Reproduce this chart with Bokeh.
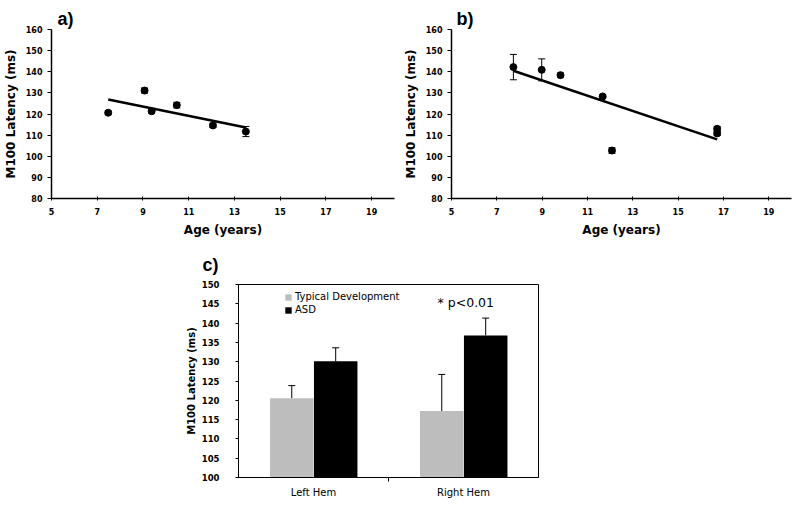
import numpy as np
from bokeh.plotting import figure
from bokeh.models import (ColumnDataSource, Whisker, TeeHead, Label, Legend, LegendItem,
                          FixedTicker, Range1d, Title)
from bokeh.layouts import column, row
from bokeh.embed import file_html
from bokeh.resources import INLINE

# ---------------- data ----------------
# panel a (typical development): age, M100 latency, error
age_a = [7.48, 9.07, 9.38, 10.48, 12.06, 13.5]
lat_a = [120.6, 131.1, 121.3, 124.2, 114.6, 111.7]
err_a = [0.8, 1.2, 0.9, 1.3, 1.0, 2.4]

# panel b (ASD)
age_b = [7.73, 8.98, 9.81, 11.67, 12.08, 16.72, 16.72]
lat_b = [142.2, 140.9, 138.4, 128.3, 102.7, 113.0, 110.8]
err_b = [6.0, 5.2, 1.0, 0.8, 1.3, 1.0, 1.0]

age_ticks = [5, 7, 9, 11, 13, 15, 17, 19]
lat_ticks_ab = [80, 90, 100, 110, 120, 130, 140, 150, 160]

# panel c (bars)
hemispheres = ["Left Hem", "Right Hem"]
td_means = [120.5, 117.2]
td_err = [3.3, 9.5]
asd_means = [130.1, 136.8]
asd_err = [3.5, 4.5]
series_names = ["Typical Development", "ASD"]
lat_ticks_c = [100, 105, 110, 115, 120, 125, 130, 135, 140, 145, 150]

FONT = "DejaVu Sans"


def scatter_panel(age, lat, err, letter, width, border_left, border_right, offset):
    p = figure(width=width, height=240, x_range=Range1d(5, 20), y_range=Range1d(80, 160),
               output_backend="svg", toolbar_location=None,
               min_border_left=border_left, min_border_right=border_right,
               min_border_top=29, min_border_bottom=42)
    p.outline_line_color = None
    p.grid.visible = False
    p.background_fill_color = "white"
    p.border_fill_color = "white"

    p.title = Title(text=letter, align="left", offset=offset, standoff=2,
                    text_font="Liberation Sans", text_font_size="18px",
                    text_font_style="bold", text_color="black")

    age = np.array(age, dtype=float)
    lat = np.array(lat, dtype=float)
    err = np.array(err, dtype=float)
    src = ColumnDataSource(dict(x=age, y=lat, lo=lat - err, hi=lat + err))

    # regression trend line
    slope, intercept = np.polyfit(age, lat, 1)
    xs = np.array([age.min(), age.max()])
    p.line(xs, slope * xs + intercept, line_color="black", line_width=2.5)

    p.add_layout(Whisker(source=src, base="x", lower="lo", upper="hi", dimension="height",
                         line_color="black", line_width=1,
                         upper_head=TeeHead(size=7, line_color="black", line_width=1),
                         lower_head=TeeHead(size=7, line_color="black", line_width=1)))
    p.scatter("x", "y", source=src, size=7, color="black")

    for ax in (p.xaxis[0], p.yaxis[0]):
        ax.axis_line_color = "black"
        ax.axis_line_width = 1.5
        ax.major_tick_line_color = "black"
        ax.major_tick_line_width = 1
        ax.minor_tick_line_color = None
        ax.major_label_text_font = FONT
        ax.major_label_text_font_style = "bold"
        ax.major_label_text_font_size = "8px"
        ax.major_label_text_color = "black"
        ax.axis_label_text_font = FONT
        ax.axis_label_text_font_style = "bold"
        ax.axis_label_text_font_size = "12px"
        ax.axis_label_text_color = "black"

    p.xaxis.ticker = FixedTicker(ticks=age_ticks, minor_ticks=[])
    p.xaxis.major_tick_in = 2
    p.xaxis.major_tick_out = 2
    p.xaxis.major_label_standoff = 7
    p.xaxis.axis_label = "Age (years)"
    p.xaxis.axis_label_standoff = 5

    p.yaxis.ticker = FixedTicker(ticks=lat_ticks_ab, minor_ticks=[])
    p.yaxis.major_tick_in = 0
    p.yaxis.major_tick_out = 4
    p.yaxis.major_label_standoff = 5
    p.yaxis.axis_label = "M100 Latency (ms)"
    p.yaxis.axis_label_standoff = 5
    return p


pa = scatter_panel(age_a, lat_a, err_a, "a)", 400, 51, 6, 6)
pb = scatter_panel(age_b, lat_b, err_b, "b)", 398, 48, 7, 5)

# ---------------- panel c ----------------
pc = figure(width=798, height=264, x_range=Range1d(0, 2), y_range=Range1d(100, 150),
            output_backend="svg", toolbar_location=None,
            min_border_left=238, min_border_right=260, min_border_top=44, min_border_bottom=27)
pc.grid.visible = False
pc.outline_line_color = "black"
pc.outline_line_width = 1
pc.title = Title(text="c)", align="left", offset=-36, standoff=20,
                 text_font="Liberation Sans", text_font_size="18px",
                 text_font_style="bold", text_color="black")

centers = np.arange(len(hemispheres)) + 0.5
bar_w = 0.29
td_x = centers - 0.145
asd_x = centers + 0.148
td_src = ColumnDataSource(dict(x=td_x, top=td_means, hi=np.array(td_means) + np.array(td_err)))
asd_src = ColumnDataSource(dict(x=asd_x, top=asd_means, hi=np.array(asd_means) + np.array(asd_err)))

r_td = pc.vbar(x="x", top="top", bottom=100, width=bar_w, source=td_src,
               fill_color="#bdbdbd", line_color=None)
r_asd = pc.vbar(x="x", top="top", bottom=100, width=bar_w, source=asd_src,
                fill_color="black", line_color=None)

for s in (td_src, asd_src):
    pc.add_layout(Whisker(source=s, base="x", lower="top", upper="hi", dimension="height",
                          line_color="black", line_width=1,
                          upper_head=TeeHead(size=7, line_color="black", line_width=1),
                          lower_head=None))

legend = Legend(items=[LegendItem(label=series_names[0], renderers=[r_td]),
                       LegendItem(label=series_names[1], renderers=[r_asd])],
                location=(46, 162), padding=0, margin=0, spacing=2,
                glyph_width=8, glyph_height=8, label_standoff=3,
                label_text_font=FONT, label_text_font_size="10px", label_text_color="black",
                border_line_color=None, background_fill_alpha=0)
pc.add_layout(legend)

pc.add_layout(Label(x=1.327, y=145.3, text="* p<0.01", text_font=FONT,
                    text_font_size="12.5px", text_color="black", text_baseline="middle"))

for ax in (pc.xaxis[0], pc.yaxis[0]):
    ax.axis_line_color = "black"
    ax.axis_line_width = 1
    ax.major_label_text_color = "black"
    ax.major_label_text_font = FONT

pc.xaxis.ticker = FixedTicker(ticks=list(centers), minor_ticks=[1.0])
pc.xaxis.major_label_overrides = {float(c): h for c, h in zip(centers, hemispheres)}
pc.xaxis.major_tick_line_color = None
pc.xaxis.major_tick_out = 0
pc.xaxis.major_tick_in = 0
pc.xaxis.minor_tick_line_color = "black"
pc.xaxis.minor_tick_out = 4
pc.xaxis.minor_tick_in = 0
pc.xaxis.major_label_text_font_size = "10px"
pc.xaxis.major_label_standoff = 5

pc.yaxis.ticker = FixedTicker(ticks=lat_ticks_c, minor_ticks=[])
pc.yaxis.major_tick_out = 3
pc.yaxis.major_tick_in = 0
pc.yaxis.minor_tick_line_color = None
pc.yaxis.major_label_text_font_style = "bold"
pc.yaxis.major_label_text_font_size = "8.5px"
pc.yaxis.major_label_standoff = 16
pc.yaxis.axis_label = "M100 Latency (ms)"
pc.yaxis.axis_label_text_font = FONT
pc.yaxis.axis_label_text_font_style = "bold"
pc.yaxis.axis_label_text_font_size = "10px"
pc.yaxis.axis_label_text_color = "black"
pc.yaxis.axis_label_standoff = 2

layout = column(row(pa, pb), pc)
open("out.html", "w").write(file_html(layout, INLINE))
